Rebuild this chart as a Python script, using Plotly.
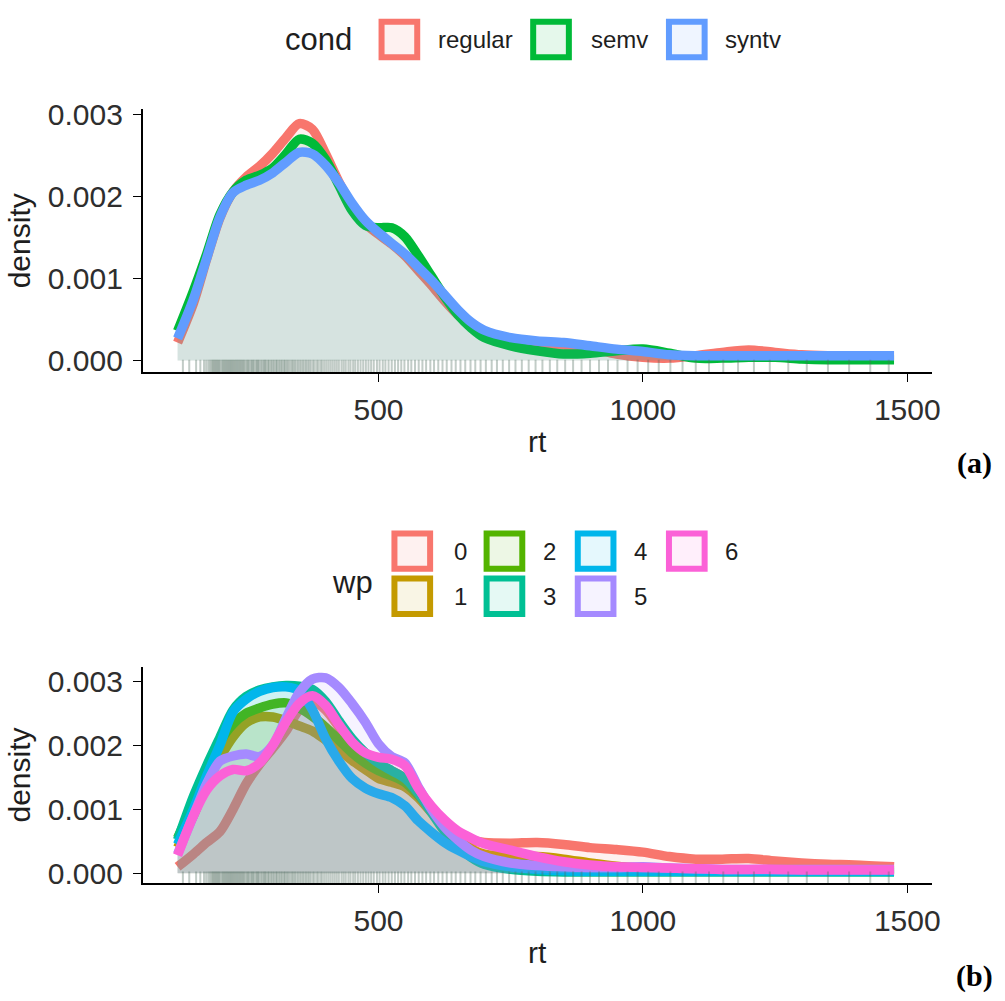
import plotly.graph_objects as go

W, H = 1005, 1001

# ---------------- data ----------------
rt_grid = [120, 150, 175, 200, 225, 250, 275, 300, 325, 350, 375, 400, 425, 450, 475,
           500, 525, 550, 575, 600, 625, 650, 675, 700, 750, 800, 850, 900, 950, 1000,
           1050, 1100, 1150, 1200, 1250, 1300, 1350, 1400, 1475]

cond_levels = ["regular", "semv", "syntv"]
cond_colors = ["#F8766D", "#00BA38", "#619CFF"]

dens_regular = [0.00022, 0.00070, 0.00124, 0.00174, 0.00206, 0.00224, 0.00237, 0.00253, 0.00272, 0.00289,
                0.00282, 0.00252, 0.00218, 0.00189, 0.00167, 0.00154, 0.00142, 0.00128, 0.00110, 0.00092,
                0.00073, 0.00056, 0.00043, 0.00034, 0.00026, 0.00022, 0.00019, 0.00015, 0.00008, 0.00004,
                0.00003, 0.00006, 0.00010, 0.00013, 0.00010, 0.00007, 0.00006, 0.00006, 0.00006]
dens_semv = [0.00036, 0.00085, 0.00130, 0.00178, 0.00206, 0.00220, 0.00226, 0.00235, 0.00252, 0.00270,
             0.00265, 0.00245, 0.00214, 0.00183, 0.00165, 0.00162, 0.00162, 0.00151, 0.00128, 0.00103,
             0.00078, 0.00056, 0.00040, 0.00028, 0.00018, 0.00012, 0.00008, 0.00009, 0.00012, 0.00014,
             0.00009, 0.00003, 0.00003, 0.00004, 0.00004, 0.00002, 0.00001, 0.00001, 0.00001]
dens_syntv = [0.00027, 0.00075, 0.00125, 0.00175, 0.00205, 0.00214, 0.00220, 0.00229, 0.00242, 0.00254,
              0.00252, 0.00238, 0.00217, 0.00192, 0.00171, 0.00156, 0.00143, 0.00130, 0.00114, 0.00098,
              0.00080, 0.00062, 0.00047, 0.00037, 0.00028, 0.00024, 0.00022, 0.00018, 0.00014, 0.00011,
              0.00007, 0.00006, 0.00006, 0.00006, 0.00006, 0.00006, 0.00006, 0.00006, 0.00006]

wp_levels = ["0", "1", "2", "3", "4", "5", "6"]
wp_colors = ["#F8766D", "#C49A00", "#53B400", "#00C094", "#00B6EB", "#A58AFF", "#FB61D7"]

dens_wp0 = [0.00010, 0.00030, 0.00048, 0.00065, 0.00100, 0.00140, 0.00170, 0.00195, 0.00222, 0.00255,
            0.00268, 0.00255, 0.00228, 0.00198, 0.00178, 0.00168, 0.00160, 0.00148, 0.00125, 0.00100,
            0.00078, 0.00060, 0.00052, 0.00048, 0.00047, 0.00048, 0.00045, 0.00040, 0.00037, 0.00033,
            0.00026, 0.00022, 0.00022, 0.00023, 0.00019, 0.00016, 0.00014, 0.00013, 0.00010]
dens_wp1 = [0.00040, 0.00090, 0.00140, 0.00180, 0.00213, 0.00235, 0.00244, 0.00244, 0.00238, 0.00230,
            0.00222, 0.00208, 0.00193, 0.00176, 0.00162, 0.00148, 0.00142, 0.00135, 0.00118, 0.00095,
            0.00072, 0.00052, 0.00038, 0.00030, 0.00026, 0.00026, 0.00022, 0.00016, 0.00011, 0.00008,
            0.00006, 0.00005, 0.00005, 0.00005, 0.00005, 0.00005, 0.00005, 0.00005, 0.00005]
dens_wp2 = [0.00055, 0.00110, 0.00162, 0.00205, 0.00233, 0.00250, 0.00258, 0.00264, 0.00266, 0.00258,
            0.00245, 0.00228, 0.00208, 0.00188, 0.00172, 0.00160, 0.00152, 0.00142, 0.00122, 0.00098,
            0.00072, 0.00050, 0.00034, 0.00024, 0.00016, 0.00013, 0.00010, 0.00008, 0.00006, 0.00005,
            0.00005, 0.00005, 0.00005, 0.00005, 0.00005, 0.00005, 0.00005, 0.00005, 0.00005]
dens_wp3 = [0.00052, 0.00120, 0.00168, 0.00212, 0.00255, 0.00276, 0.00286, 0.00291, 0.00293, 0.00292,
            0.00287, 0.00268, 0.00238, 0.00210, 0.00188, 0.00172, 0.00160, 0.00148, 0.00125, 0.00095,
            0.00065, 0.00042, 0.00025, 0.00014, 0.00006, 0.00003, 0.00002, 0.00002, 0.00002, 0.00002,
            0.00002, 0.00002, 0.00002, 0.00002, 0.00002, 0.00002, 0.00002, 0.00002, 0.00002]
dens_wp4 = [0.00045, 0.00100, 0.00152, 0.00200, 0.00252, 0.00272, 0.00284, 0.00290, 0.00291, 0.00285,
            0.00255, 0.00210, 0.00175, 0.00148, 0.00133, 0.00124, 0.00118, 0.00105, 0.00082, 0.00064,
            0.00048, 0.00036, 0.00026, 0.00018, 0.00010, 0.00006, 0.00004, 0.00003, 0.00003, 0.00003,
            0.00003, 0.00003, 0.00003, 0.00003, 0.00003, 0.00003, 0.00003, 0.00003, 0.00003]
dens_wp5 = [0.00030, 0.00090, 0.00140, 0.00175, 0.00183, 0.00186, 0.00182, 0.00200, 0.00242, 0.00282,
            0.00303, 0.00305, 0.00290, 0.00265, 0.00236, 0.00202, 0.00182, 0.00172, 0.00135, 0.00100,
            0.00072, 0.00052, 0.00036, 0.00026, 0.00016, 0.00012, 0.00010, 0.00009, 0.00009, 0.00010,
            0.00008, 0.00007, 0.00006, 0.00006, 0.00006, 0.00006, 0.00006, 0.00006, 0.00006]
dens_wp6 = [0.00028, 0.00090, 0.00130, 0.00152, 0.00162, 0.00160, 0.00172, 0.00200, 0.00236, 0.00265,
            0.00277, 0.00262, 0.00232, 0.00205, 0.00188, 0.00181, 0.00178, 0.00168, 0.00133, 0.00105,
            0.00083, 0.00066, 0.00055, 0.00046, 0.00036, 0.00026, 0.00018, 0.00013, 0.00010, 0.00009,
            0.00008, 0.00007, 0.00006, 0.00006, 0.00006, 0.00005, 0.00005, 0.00005, 0.00005]

rug_rt = [130, 142, 155, 163, 170, 174, 178, 181, 184, 186, 188, 190, 192, 194, 196, 198, 200, 203, 205,
          207, 209, 211, 213, 215, 217, 219, 221, 223, 225, 227, 229, 231, 233, 235, 237, 239, 241, 243,
          245, 247, 250, 252, 254, 256, 259, 261, 263, 265, 268, 270, 272, 274, 277, 279, 282, 284, 286,
          288, 291, 293, 296, 298, 301, 303, 306, 308, 311, 313, 316, 318, 321, 323, 326, 328, 331, 334,
          337, 339, 342, 345, 348, 351, 354, 357, 360, 363, 366, 369, 372, 376, 379, 383, 386, 390, 393,
          397, 401, 405, 409, 413, 417, 421, 425, 430, 434, 438, 443, 447, 452, 456, 461, 466, 471, 476,
          481, 486, 491, 497, 502, 508, 513, 519, 525, 531, 537, 543, 549, 556, 562, 569, 576, 583, 590,
          598, 605, 613, 621, 629, 638, 646, 655, 664, 674, 683, 693, 703, 714, 724, 735, 747, 759, 771,
          784, 797, 810, 824, 838, 853, 868, 884, 900, 917, 934, 952, 971, 990, 1010, 1030, 1052, 1075,
          1100, 1125, 1152, 1180, 1210, 1240, 1275, 1310, 1350, 1390, 1430, 1465]

x_ticks = [500, 1000, 1500]
y_ticks = [0.000, 0.001, 0.002, 0.003]

# ---------------- helpers ----------------
def rgba(hex_color, a):
    h = hex_color.lstrip("#")
    r, g, b = int(h[0:2], 16), int(h[2:4], 16), int(h[4:6], 16)
    return f"rgba({r},{g},{b},{a})"

def px(x):
    return x / W

def py(y):
    return 1 - y / H

FONT = "Arial, 'Liberation Sans', sans-serif"
LINE_W = 9.5
FILL_A = 0.1

fig = go.Figure()

# panel (a)
for name, col, dens in zip(cond_levels, cond_colors,
                           [dens_regular, dens_semv, dens_syntv]):
    fig.add_trace(go.Scatter(
        x=rt_grid, y=dens, mode="lines", name=name,
        line=dict(color=col, width=LINE_W, shape="spline", smoothing=0.8),
        fill="tozeroy", fillcolor=rgba(col, FILL_A),
        showlegend=False, xaxis="x", yaxis="y"))

# panel (b)
for name, col, dens in zip(wp_levels, wp_colors,
                           [dens_wp0, dens_wp1, dens_wp2, dens_wp3, dens_wp4, dens_wp5, dens_wp6]):
    fig.add_trace(go.Scatter(
        x=rt_grid, y=dens, mode="lines", name=name,
        line=dict(color=col, width=LINE_W, shape="spline", smoothing=0.8),
        fill="tozeroy", fillcolor=rgba(col, FILL_A),
        showlegend=False, xaxis="x2", yaxis="y2"))

# rugs
RUG_Y_A = -0.000075
RUG_Y_B = -0.000082
for xa, ya, ry in [("x", "y", RUG_Y_A), ("x2", "y2", RUG_Y_B)]:
    fig.add_trace(go.Scatter(
        x=rug_rt, y=[ry] * len(rug_rt), mode="markers",
        marker=dict(symbol="line-ns", size=10,
                    line=dict(color="rgba(75,105,90,0.34)", width=2)),
        showlegend=False, hoverinfo="skip", xaxis=xa, yaxis=ya))

xrange = [54, 1546]
axis_common = dict(
    showline=True, linecolor="black", linewidth=1.6, ticks="outside",
    ticklen=8, tickwidth=1.4, tickcolor="black", showgrid=False, zeroline=False,
    tickfont=dict(family=FONT, size=30, color="#2e2e2e"),
)
TITLE_FONT = dict(family=FONT, size=30, color="#1e1e1e")

fig.update_layout(
    width=W, height=H, margin=dict(l=0, r=0, t=0, b=0),
    paper_bgcolor="white", plot_bgcolor="white",
    xaxis=dict(domain=[px(144), px(940)], range=xrange, anchor="y",
               tickvals=x_ticks, ticktext=[str(v) for v in x_ticks], ticklabelstandoff=2,
               title=dict(text="rt", font=TITLE_FONT, standoff=6),
               **axis_common),
    yaxis=dict(domain=[py(368), py(100)], range=[-0.000144, 0.003066], anchor="x",
               tickvals=y_ticks, tickformat=".3f", ticklabelstandoff=4,
               title=dict(text="density", font=TITLE_FONT, standoff=8),
               **axis_common),
    xaxis2=dict(domain=[px(144), px(940)], range=xrange, anchor="y2",
                tickvals=x_ticks, ticktext=[str(v) for v in x_ticks], ticklabelstandoff=2,
                title=dict(text="rt", font=TITLE_FONT, standoff=6),
                **axis_common),
    yaxis2=dict(domain=[py(888), py(668)], range=[-0.000153, 0.00322], anchor="x2",
                tickvals=y_ticks, tickformat=".3f", ticklabelstandoff=4,
                title=dict(text="density", font=TITLE_FONT, standoff=8),
                **axis_common),
)

shapes = []
annotations = []
KEY = 42
KEY_LW = 6

# legend (a)
key_left_a = [382, 535, 672]
label_left_a = [440, 594, 730]
key_top_a = 8
annotations.append(dict(text="cond", x=px(286), y=py(29), xref="paper", yref="paper",
                        xanchor="left", yanchor="middle", showarrow=False,
                        font=dict(family=FONT, size=31, color="#1e1e1e")))
for name, col, kx, lx in zip(cond_levels, cond_colors, key_left_a, label_left_a):
    shapes.append(dict(type="rect", xref="paper", yref="paper",
                       x0=px(kx + KEY_LW / 2), x1=px(kx + KEY - KEY_LW / 2),
                       y0=py(key_top_a + KEY_LW / 2), y1=py(key_top_a + KEY - KEY_LW / 2),
                       line=dict(color=col, width=KEY_LW), fillcolor=rgba(col, 0.1)))
    annotations.append(dict(text=name, x=px(lx), y=py(key_top_a + KEY / 2), xref="paper", yref="paper",
                            xanchor="left", yanchor="middle", showarrow=False,
                            font=dict(family=FONT, size=24, color="#1e1e1e")))

# legend (b)
col_left_b = [395, 488, 580, 672]
label_cx_b = [465, 554, 646, 738]
row_top_b = [529, 575]
annotations.append(dict(text="wp", x=px(333), y=py(582), xref="paper", yref="paper",
                        xanchor="left", yanchor="middle", showarrow=False,
                        font=dict(family=FONT, size=31, color="#1e1e1e")))
for i, (name, col) in enumerate(zip(wp_levels, wp_colors)):
    c, r = i // 2, i % 2
    kx, ky = col_left_b[c], row_top_b[r]
    shapes.append(dict(type="rect", xref="paper", yref="paper",
                       x0=px(kx + KEY_LW / 2), x1=px(kx + KEY - KEY_LW / 2),
                       y0=py(ky + KEY_LW / 2), y1=py(ky + KEY - KEY_LW / 2),
                       line=dict(color=col, width=KEY_LW), fillcolor=rgba(col, 0.1)))
    annotations.append(dict(text=name, x=px(label_cx_b[c]), y=py(ky + KEY / 2), xref="paper", yref="paper",
                            xanchor="center", yanchor="middle", showarrow=False,
                            font=dict(family=FONT, size=24, color="#1e1e1e")))

# panel labels
SERIF = "'Times New Roman', 'Liberation Serif', serif"
annotations.append(dict(text="(a)", x=px(983), y=py(460), xref="paper", yref="paper",
                        xanchor="center", yanchor="middle", showarrow=False,
                        font=dict(family=SERIF, size=30, color="black", weight="bold")))
annotations.append(dict(text="(b)", x=px(983), y=py(983), xref="paper", yref="paper",
                        xanchor="center", yanchor="middle", showarrow=False,
                        font=dict(family=SERIF, size=30, color="black", weight="bold")))

fig.update_layout(shapes=shapes, annotations=annotations)

fig.write_html("out.html", config={"displayModeBar": False},
               post_script="document.body.style.margin='0';document.body.style.overflow='hidden';")
